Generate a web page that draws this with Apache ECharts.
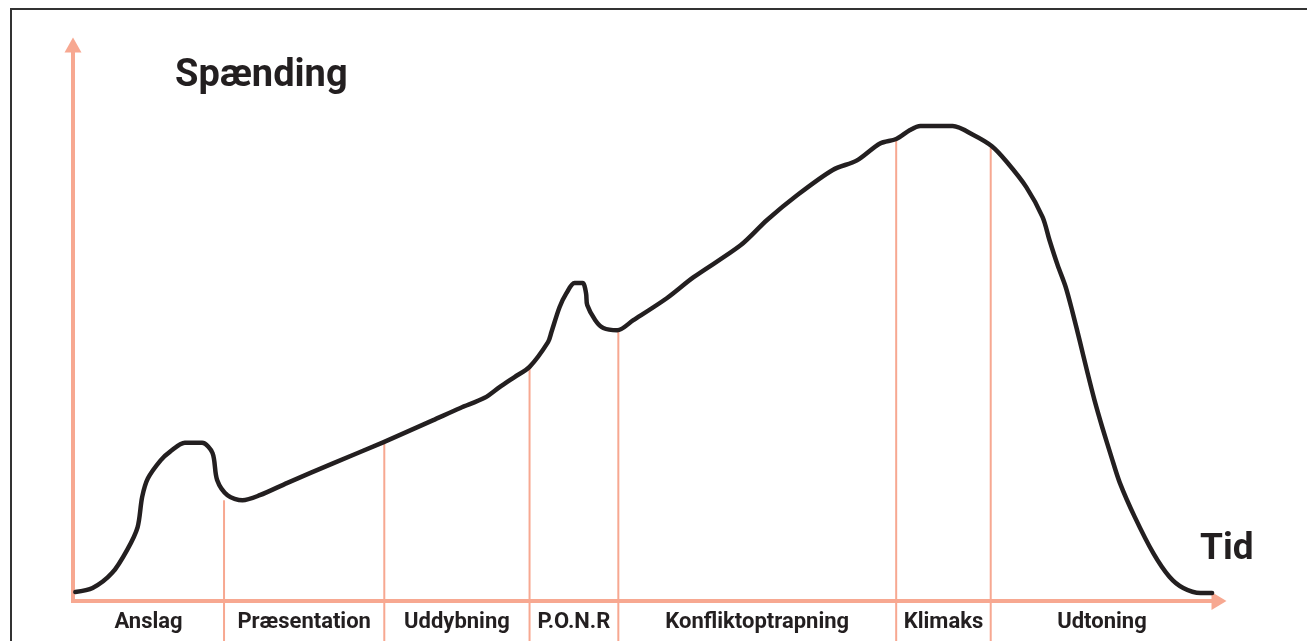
<!DOCTYPE html>
<html>
<head>
<meta charset="utf-8">
<title>Spænding</title>
<script src="https://cdn.jsdelivr.net/npm/echarts@6/dist/echarts.min.js"></script>
<style>
  html, body { margin: 0; padding: 0; background: #fff; }
  #main { width: 1307px; height: 641px; }
</style>
</head>
<body>
<div id="main"></div>
<script>
  // tidsakse 0-100, spænding 0-100 (aflæst fra tegningen)
  var time = [0.2, 1.7, 3.4, 4.7, 5.6, 6.0, 6.5, 7.6, 8.4, 9.7, 11.2, 12.1, 12.5, 13.4, 14.7, 16.2,
    18.6, 22.6, 26.9, 31.2, 33.6, 35.7, 37.0, 38.3, 39.6, 41.2, 41.5, 42.2, 42.8, 43.5, 44.2,
    44.5, 44.6, 45.3, 46.0, 47.2, 48.6, 51.5, 53.8, 57.9, 60.2, 62.8, 65.9, 68.0, 70.0, 71.4,
    72.6, 73.5, 76.3, 78.1, 79.7, 81.0, 82.7, 84.1, 84.7, 85.4, 86.1, 86.7, 87.3, 88.0, 88.6,
    89.3, 90.1, 90.8, 92.1, 93.7, 95.1, 96.3, 97.8, 98.8];
  var tension = [1.6, 2.3, 5.0, 9.1, 13.1, 18.5, 21.8, 25.0, 26.5, 28.1, 28.1, 26.3, 21.5, 18.8, 17.9, 18.8,
    21.0, 24.5, 28.2, 32.1, 34.3, 36.1, 38.0, 39.8, 41.6, 46.0, 47.8, 52.2, 54.7, 56.5, 56.5,
    54.7, 52.6, 49.9, 48.5, 48.1, 49.9, 53.8, 57.5, 63.2, 67.7, 72.1, 76.6, 78.3, 81.3, 82.1,
    83.7, 84.4, 84.4, 82.8, 80.8, 78.0, 73.5, 68.2, 64.1, 59.7, 55.8, 51.3, 46.4, 40.5, 35.7,
    30.7, 25.4, 21.0, 14.9, 8.5, 4.3, 2.3, 1.4, 1.4];

  var phases = ['Anslag', 'Præsentation', 'Uddybning', 'P.O.N.R', 'Konfliktoptrapning', 'Klimaks', 'Udtoning'];
  var phaseEdges = [0, 13.1, 27.0, 39.6, 47.3, 71.4, 79.6, 98.9];
  var dividerTops = [17.9, 28.1, 41.9, 48.1, 81.9, 80.5]; // hvor skillelinjen rammer kurven

  var AXIS = '#f7a891';
  var INK = '#231f20';
  var FONT = 'Roboto, "DejaVu Sans", sans-serif';

  var curve = time.map(function (t, i) { return [t, tension[i]]; });
  var dividers = dividerTops.map(function (top, i) { return [phaseEdges[i + 1], top]; });
  var labels = phases.map(function (name, i) {
    return [(phaseEdges[i] + phaseEdges[i + 1]) / 2, name];
  });

  var chart = echarts.init(document.getElementById('main'));
  chart.setOption({
    animation: false,
    backgroundColor: '#fff',
    title: [
      { text: 'Spænding', left: 175, top: 57, padding: 0,
        textStyle: { fontFamily: FONT, fontWeight: 'bold', fontSize: 38, color: INK } },
      { text: 'Tid', left: 1200, top: 531, padding: 0,
        textStyle: { fontFamily: FONT, fontWeight: 'bold', fontSize: 37, color: INK } }
    ],
    graphic: [{
      type: 'polyline',
      shape: { points: [[11, 641], [11, 9], [1307, 9]] },
      style: { stroke: '#333', lineWidth: 2, fill: null }
    }],
    grid: { left: 73, right: 88, top: 45, bottom: 40 },
    xAxis: {
      type: 'value', min: 0, max: 99.4,
      axisLine: { show: true, symbol: ['none', 'triangle'], symbolSize: [18, 15],
        lineStyle: { color: AXIS, width: 4, cap: 'square' } },
      axisTick: { show: false }, axisLabel: { show: false }, splitLine: { show: false }
    },
    yAxis: {
      type: 'value', min: 0, max: 98.8,
      axisLine: { show: true, symbol: ['none', 'triangle'], symbolSize: [17, 15],
        lineStyle: { color: AXIS, width: 4, cap: 'square' } },
      axisTick: { show: false }, axisLabel: { show: false }, splitLine: { show: false }
    },
    series: [
      {
        type: 'custom',
        name: 'skillelinjer',
        clip: false,
        z: 1,
        data: dividers,
        renderItem: function (params, api) {
          var p = api.coord([api.value(0), api.value(1)]);
          return {
            type: 'line',
            shape: { x1: p[0], y1: p[1], x2: p[0], y2: api.getHeight() },
            style: { stroke: AXIS, lineWidth: 2 }
          };
        }
      },
      {
        type: 'custom',
        name: 'faser',
        clip: false,
        data: labels,
        renderItem: function (params, api) {
          var p = api.coord([api.value(0), 0]);
          return {
            type: 'text',
            x: p[0], y: p[1] + 21,
            style: {
              text: phases[params.dataIndex],
              fill: INK, font: 'bold 22px ' + FONT,
              align: 'center', verticalAlign: 'middle'
            }
          };
        }
      },
      {
        type: 'line',
        name: 'Spænding',
        data: curve,
        smooth: 0.3,
        showSymbol: false,
        clip: false,
        z: 5,
        lineStyle: { color: INK, width: 4.5, cap: 'round', join: 'round' }
      }
    ]
  });
</script>
</body>
</html>
